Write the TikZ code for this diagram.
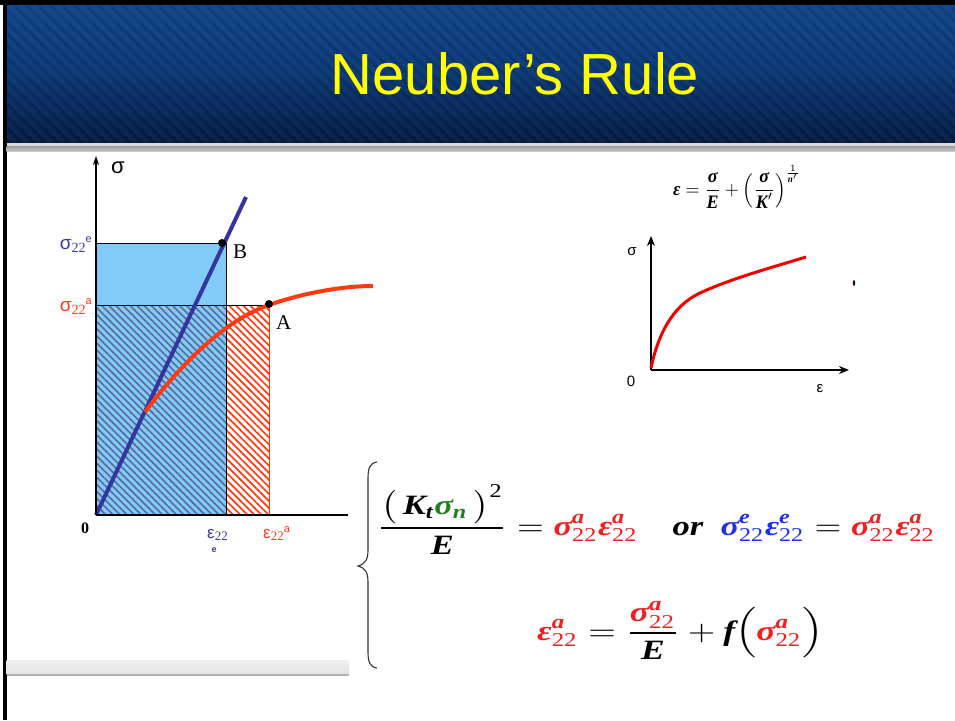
\documentclass[tikz,border=0pt]{standalone}
\usepackage{fontspec}
\setmainfont{Liberation Serif}
\newfontfamily\arial{Liberation Sans}
\usepackage{amsmath}
\usepackage{graphicx}
\usetikzlibrary{arrows.meta,patterns.meta}
\definecolor{hdrtop}{HTML}{0F4488}
\definecolor{hdrmid}{HTML}{0A3672}
\definecolor{hdrbot}{HTML}{041A40}
\definecolor{title}{HTML}{FFFF00}
\definecolor{lblue}{HTML}{80CBF8}
\definecolor{hatchblue}{HTML}{5A6A9A}
\definecolor{lineblue}{HTML}{3535A0}
\definecolor{curvered}{HTML}{FF3A10}
\definecolor{labred}{HTML}{FF3A1A}
\definecolor{labblue}{HTML}{3A3AA8}
\definecolor{eqred}{HTML}{F02020}
\definecolor{eqblue}{HTML}{2030F0}
\definecolor{eqgreen}{HTML}{208020}
\newcommand{\bi}[1]{\text{\bfseries\itshape #1}}
\newcommand{\rg}[1]{\text{\normalfont #1}}
\tikzset{
  stripe/.style={line width=5pt, white, opacity=0.03},
  dstripe/.style={line width=3pt, black, opacity=0.05},
  axis/.style={line width=1.3pt, black},
  saxis/.style={line width=2pt, black},
  dot/.style={circle, fill=black, inner sep=0pt, minimum size=8pt},
  lbl/.style={inner sep=0pt},
}
\begin{document}
\begin{tikzpicture}[x=1pt,y=-1pt]
\useasboundingbox (0,0) rectangle (955,720);
\fill[white] (0,0) rectangle (955,720);
% header
\shade[top color=hdrtop, bottom color=hdrbot, middle color=hdrmid] (6,5) rectangle (955,143);
\begin{scope}
  \clip (6,5) rectangle (955,143);
  \foreach \i in {-160,-148,...,960} {
    \draw[stripe] (\i,5) -- ++(140,138);
    \draw[dstripe] (\i+6,5) -- ++(140,138);
  }
\end{scope}
\fill[black] (0,0) rectangle (955,5);
\fill[black] (3,0) rectangle (6.5,720);
\fill[gray!30] (6.5,143) rectangle (955,146);
\shade[top color=gray!75, bottom color=gray!45] (6.5,146) rectangle (955,151);
\node[lbl, text=title, font=\arial\fontsize{58}{60}\selectfont] (title) at (515,74) {Neuber’s Rule};
% bottom left gray bar
\shade[top color=gray!12, bottom color=gray!22] (6.5,660) rectangle (349,674);
\fill[gray!60] (6.5,674) rectangle (349,676);

% left graph
\fill[lblue] (96,243) rectangle (226,515);
\fill[pattern={Lines[angle=-45,distance=5pt,line width=1.6pt]}, pattern color=hatchblue] (96,305) rectangle (226,515);
\fill[pattern={Lines[angle=-45,distance=5pt,line width=1.7pt]}, pattern color=curvered] (226,305) rectangle (269,515);
\draw[line width=0.9pt] (96,243) -- (226,243) -- (226,515);
\draw[line width=0.9pt] (96,305) -- (269,305);
\draw[line width=1pt, curvered] (269,305) -- (269,515);
\coordinate (O) at (96,515);
\coordinate (Bend) at (246,197);
\draw[line width=4pt, lineblue] (O) -- (Bend);
\draw[line width=4pt, curvered] (145,412) .. controls (180,365) and (225,320) .. (269,305) .. controls (300,294) and (340,286) .. (373,286);
\node[dot] (B) at (222,243) {};
\node[dot] (A) at (269,304) {};
\coordinate (Ytop) at (96,156);
\coordinate (Xend) at (348,515);
\draw[axis, -{Stealth[length=9pt,width=6pt]}] (O) -- (Ytop);
\draw[line width=1.6pt] (O) -- (Xend);
\node[lbl, font=\arial\fontsize{22}{24}\selectfont] (sig) at (118,168) {σ};
\node[lbl, anchor=base west, font=\fontsize{21}{24}\selectfont] (Blab) at (233,258) {B};
\node[lbl, anchor=base west, font=\fontsize{21}{24}\selectfont] (Alab) at (276,329) {A};
\node[lbl, anchor=base, font=\bfseries\fontsize{16}{16}\selectfont] (zero) at (85,533) {0};
\node[lbl, anchor=base east, text=labblue] (s22e) at (92,249) {\arial\fontsize{19}{20}\selectfont σ\raisebox{-3pt}{\normalfont\fontsize{14}{14}\selectfont 22}\raisebox{7pt}{\fontsize{11}{11}\selectfont e}};
\node[lbl, anchor=base east, text=labred] (s22a) at (92,311) {\arial\fontsize{19}{20}\selectfont σ\raisebox{-3pt}{\normalfont\fontsize{14}{14}\selectfont 22}\raisebox{7pt}{\fontsize{11}{11}\selectfont a}};
\node[lbl, anchor=base west, text=labblue] (e22e) at (207,538) {\arial\fontsize{17}{18}\selectfont ε\raisebox{-2pt}{\normalfont\fontsize{13}{13}\selectfont 22}};
\node[lbl, anchor=base, text=labblue, font=\arial\bfseries\fontsize{9}{9}\selectfont] (e22sub) at (214,552) {e};
\node[lbl, anchor=base west, text=labred] (e22a) at (263,538) {\arial\fontsize{17}{18}\selectfont ε\raisebox{-2pt}{\normalfont\fontsize{13}{13}\selectfont 22}\raisebox{6pt}{\fontsize{11}{11}\selectfont a}};

% small graph
\node[lbl] (ramberg) at (737,187) {\scalebox{1.8}[1.9]{$\bi{ε}=\dfrac{\bi{σ}}{\bi{E}}+\left(\dfrac{\bi{σ}}{\bi{K}'}\right)^{\frac{1}{\bi{n}'}}$}};
\coordinate (o2) at (651,370);
\coordinate (y2) at (651,236);
\coordinate (x2) at (849,370);
\draw[saxis, -{Stealth[length=10pt,width=8pt]}] (o2) -- (y2);
\draw[saxis, -{Stealth[length=10pt,width=8pt]}] (o2) -- (x2);
\draw[line width=3pt, red!95!black] (651,368) .. controls (658,335) and (672,306) .. (700,293) .. controls (730,279) and (770,268) .. (806,257);
\node[lbl, font=\arial\fontsize{15}{16}\selectfont] (sig2) at (632,252) {σ};
\node[lbl, font=\arial\fontsize{15}{16}\selectfont] (zero2) at (631,381) {0};
\node[lbl, font=\arial\fontsize{15}{16}\selectfont] (eps2) at (820,389) {ε};
\fill[black!70!purple] (854,283) ellipse (1.2pt and 3pt);

% equations
\draw[line width=1.1pt, black!80] (377,462) .. controls (370,463) and (368,468) .. (368,478) -- (368,550) .. controls (368,560) and (365,564) .. (358,566) .. controls (365,568) and (368,572) .. (368,582) -- (368,652) .. controls (368,662) and (370,667) .. (377,668);
\node[lbl, anchor=base west] (row1) at (377,535) {\scalebox{3.45}[2.8]{$\displaystyle
 \frac{\big(\,\bi{K}_{\bi{t}}\textcolor{eqgreen}{\bi{σ}_{\bi{n}}}\,\big)^{\rg{2}}}{\bi{E}}
 = \textcolor{eqred}{\bi{σ}^{\bi{a}}_{\rg{22}}\bi{ε}^{\bi{a}}_{\rg{22}}}
 \quad \bi{or}\ \ 
 \textcolor{eqblue}{\bi{σ}^{\bi{e}}_{\rg{22}}\bi{ε}^{\bi{e}}_{\rg{22}}}
 = \textcolor{eqred}{\bi{σ}^{\bi{a}}_{\rg{22}}\bi{ε}^{\bi{a}}_{\rg{22}}}$}};
\node[lbl, anchor=base west] (row2) at (537,640) {\scalebox{3.55}[2.8]{$\displaystyle
 \textcolor{eqred}{\bi{ε}^{\bi{a}}_{\rg{22}}}
 = \frac{\textcolor{eqred}{\bi{σ}^{\bi{a}}_{\rg{22}}}}{\bi{E}}
 + \bi{f}\Big(\textcolor{eqred}{\bi{σ}^{\bi{a}}_{\rg{22}}}\Big)$}};
\end{tikzpicture}
\end{document}
